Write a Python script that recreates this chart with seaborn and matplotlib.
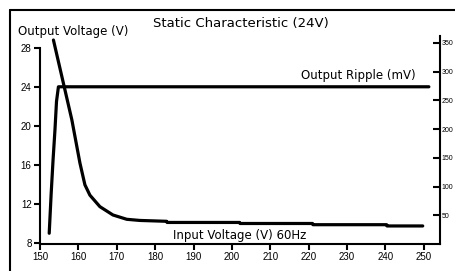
import matplotlib
matplotlib.use("Agg")
import matplotlib.pyplot as plt
import seaborn as sns
from matplotlib.lines import Line2D

# Output voltage (V) against input voltage (V)
vin_vout = [152.4, 152.9, 153.4, 153.9, 154.3, 154.8, 251.3]
vout = [9.0, 13.0, 16.5, 19.6, 22.5, 24.0, 24.0]

# Output ripple (mV) against input voltage (V)
vin_ripple = [153.5, 158.3, 160.4, 161.7, 163.0, 165.6, 169.0, 172.6, 176.0,
              183.0, 183.1, 202.0, 202.1, 221.0, 221.1, 240.3, 240.4, 249.7]
ripple = [355, 216, 141, 103, 85, 65, 50.5, 43, 41,
          39.5, 37.5, 37.5, 35.7, 35.7, 33.6, 33.6, 31.4, 31.4]

x_ticks = [150, 160, 170, 180, 190, 200, 210, 220, 230, 240, 250]
left_ticks = [8, 12, 16, 20, 24, 28]
right_ticks = [50, 100, 150, 200, 250, 300, 350]

sns.set_style("ticks")
plt.rcParams['font.family'] = ['Liberation Sans', 'DejaVu Sans']
plt.rcParams['text.color'] = 'black'

W, H = 456, 271
fig = plt.figure(figsize=(W / 100, H / 100), dpi=100)
ax = fig.add_axes([40 / W, 1 - 244 / H, 400 / W, 208 / H])
ax2 = ax.twinx()

sns.lineplot(x=vin_vout, y=vout, ax=ax, color='black', lw=2.3,
             sort=False, estimator=None)
sns.lineplot(x=vin_ripple, y=ripple, ax=ax2, color='black', lw=2.3,
             sort=False, estimator=None)

ax.set_xlim(150, 254.2)
ax.set_ylim(7.9, 29.2)
ax2.set_ylim(0, 362)
ax.set_xticks(x_ticks)
ax.set_yticks(left_ticks)
ax2.set_yticks(right_ticks)

for a in (ax, ax2):
    for s in a.spines.values():
        s.set_linewidth(1.5)
        s.set_color('black')
    a.spines['top'].set_visible(False)
ax.spines['right'].set_visible(False)
ax2.spines['left'].set_visible(False)
ax2.spines['bottom'].set_visible(False)
ax.spines['left'].set_bounds(8, 28)

ax.tick_params(axis='both', direction='out', length=4, width=1.5,
               labelsize=7, pad=2, colors='black')
ax2.tick_params(axis='y', direction='in', length=5, width=1.5,
                labelsize=5, pad=1, colors='black')

def px(x, y):
    return x / W, 1 - y / H

lab = dict(family='DejaVu Sans', fontsize=8.5, color='black')
fig.text(*px(241, 24), 'Static Characteristic (24V)', ha='center',
         va='center', family='DejaVu Sans', fontsize=9.5, color='black')
fig.text(*px(18, 31), 'Output Voltage (V)', ha='left', va='center', **lab)
fig.text(*px(416, 75), 'Output Ripple (mV)', ha='right', va='center', **lab)
fig.text(*px(173, 235), 'Input Voltage (V) 60Hz', ha='left', va='center',
         **lab)

# outer frame (left and top edges)
fig.add_artist(Line2D([10 / W, 10 / W], [0, 1 - 10 / H],
                      transform=fig.transFigure, color='black', lw=1.5))
fig.add_artist(Line2D([10 / W, 1], [1 - 10 / H, 1 - 10 / H],
                      transform=fig.transFigure, color='black', lw=1.5))

fig.savefig('out.png', dpi=100)
